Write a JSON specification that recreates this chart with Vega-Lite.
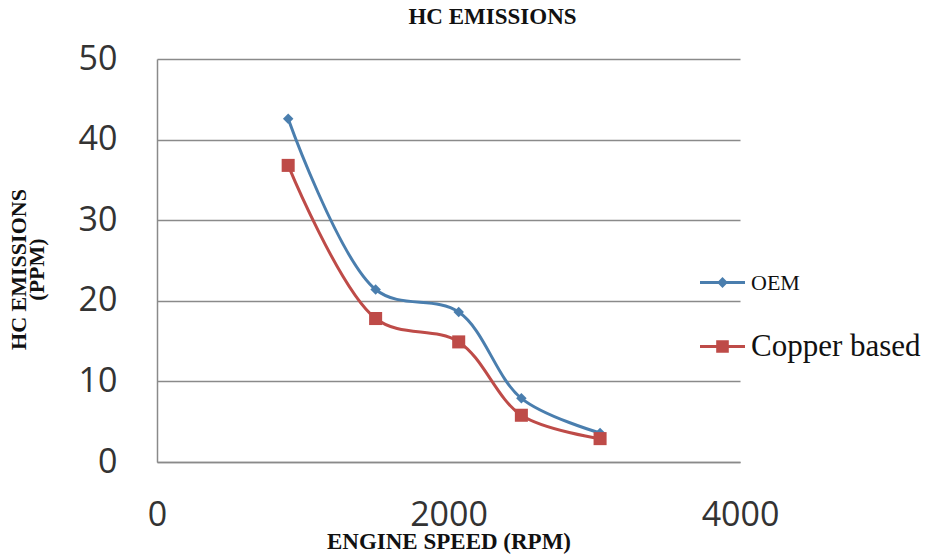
{
  "$schema": "https://vega.github.io/schema/vega-lite/v6.json",
  "width": 583,
  "height": 403,
  "autosize": "none",
  "padding": {"left": 157, "top": 59, "right": 195, "bottom": 98},
  "background": "white",
  "title": {
    "text": "HC EMISSIONS",
    "font": "Liberation Serif",
    "fontSize": 23,
    "fontWeight": "bold",
    "color": "#111",
    "anchor": "middle",
    "dx": 44,
    "offset": 13
  },
  "config": {
    "view": {"stroke": null},
    "legend": {
      "title": null,
      "orient": "none",
      "legendX": 543,
      "legendY": 201,
      "symbolSize": 2025,
      "rowPadding": 30,
      "labelOffset": 6,
      "labelLimit": 300,
      "labelFont": "Liberation Serif",
      "labelColor": "#111",
      "labelFontSize": 22
    }
  },
  "data": {
    "values": [
      {"speed": 900, "hc": 42.6, "series": "OEM"},
      {"speed": 1500, "hc": 21.4, "series": "OEM"},
      {"speed": 2070, "hc": 18.6, "series": "OEM"},
      {"speed": 2500, "hc": 7.9, "series": "OEM"},
      {"speed": 3040, "hc": 3.6, "series": "OEM"},
      {"speed": 900, "hc": 36.8, "series": "Copper based"},
      {"speed": 1500, "hc": 17.8, "series": "Copper based"},
      {"speed": 2070, "hc": 14.9, "series": "Copper based"},
      {"speed": 2500, "hc": 5.8, "series": "Copper based"},
      {"speed": 3040, "hc": 2.9, "series": "Copper based"}
    ]
  },
  "encoding": {
    "x": {
      "field": "speed",
      "type": "quantitative",
      "scale": {"domain": [0, 4000], "nice": false},
      "axis": {
        "title": "ENGINE SPEED (RPM)",
        "titleFont": "Liberation Serif",
        "titleFontSize": 23,
        "titleFontWeight": "bold",
        "titleColor": "#111",
        "titlePadding": -2,
        "values": [0, 2000, 4000],
        "format": "d",
        "labelFont": "Open Sans",
        "labelFontSize": 34,
        "labelColor": "#333",
        "labelPadding": 36,
        "ticks": false,
        "grid": false,
        "domainColor": "#8a8a8a",
        "domainWidth": 1.5,
        "labelFlush": false
      }
    },
    "y": {
      "field": "hc",
      "type": "quantitative",
      "scale": {"domain": [0, 50], "nice": false},
      "axis": {
        "title": ["HC EMISSIONS", "(PPM)"],
        "titleFont": "Liberation Serif",
        "titleFontSize": 22,
        "titleFontWeight": "bold",
        "titleColor": "#111",
        "titleLineHeight": 18,
        "titlePadding": 30,
        "titleY": 210,
        "values": [0, 10, 20, 30, 40, 50],
        "labelFont": "Open Sans",
        "labelFontSize": 34,
        "labelColor": "#333",
        "labelPadding": 40,
        "ticks": false,
        "grid": true,
        "gridColor": "#8a8a8a",
        "gridWidth": 1.5,
        "domainColor": "#8a8a8a",
        "domainWidth": 1.5
      }
    },
    "color": {
      "field": "series",
      "type": "nominal",
      "scale": {"domain": ["OEM", "Copper based"], "range": ["#4a7eae", "#be4b48"]},
      "legend": {
        "encode": {
          "symbols": {
            "update": {
              "shape": {"signal": "datum.value === 'OEM' ? 'M-1,-0.07H1V0.07H-1Z M0,-0.24L0.24,0L0,0.24L-0.24,0Z' : 'M-1,-0.07H1V0.07H-1Z M-0.28,-0.28H0.28V0.28H-0.28Z'"},
              "fill": {"signal": "datum.value === 'OEM' ? '#4a7eae' : '#be4b48'"},
              "size": {"value": 2025},
              "strokeWidth": {"value": 0},
              "opacity": {"value": 1}
            }
          },
          "labels": {
            "update": {
              "fontSize": {"signal": "datum.value === 'OEM' ? 22 : 31"}
            }
          }
        }
      }
    }
  },
  "layer": [
    {
      "mark": {"type": "line", "interpolate": "catmull-rom", "strokeWidth": 3}
    },
    {
      "transform": [{"filter": "datum.series === 'OEM'"}],
      "mark": {"type": "point", "filled": true, "opacity": 1, "shape": "diamond", "size": 110}
    },
    {
      "transform": [{"filter": "datum.series === 'Copper based'"}],
      "mark": {"type": "point", "filled": true, "opacity": 1, "shape": "square", "size": 170}
    }
  ]
}
